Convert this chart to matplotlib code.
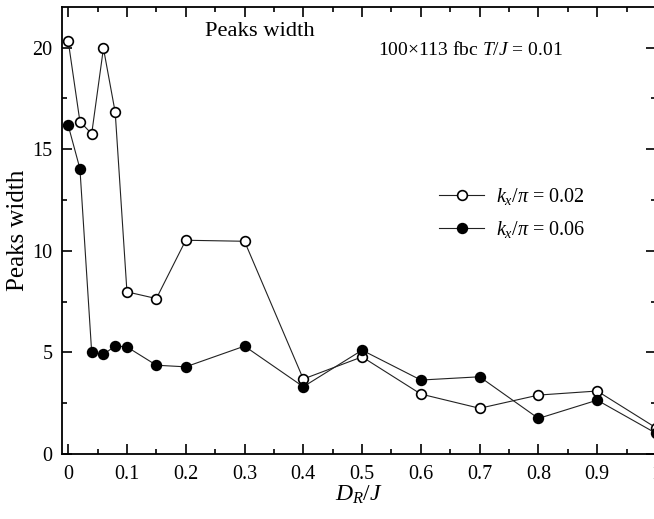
import matplotlib
matplotlib.use("Agg")
import matplotlib.pyplot as plt
from matplotlib.ticker import MultipleLocator

plt.rcParams['font.family'] = ['Liberation Serif', 'DejaVu Serif']
plt.rcParams['mathtext.fontset'] = 'custom'
plt.rcParams['mathtext.rm'] = 'Liberation Serif'
plt.rcParams['mathtext.it'] = 'Liberation Serif:italic'

dr = [0, 0.02, 0.04, 0.06, 0.08, 0.1, 0.15, 0.2, 0.3, 0.4, 0.5, 0.6, 0.7, 0.8, 0.9, 1.0]
width_k002 = [20.34, 16.36, 15.76, 19.97, 16.82, 7.98, 7.65, 10.52, 10.47, 3.69, 4.78, 2.95, 2.25, 2.9, 3.1, 1.29]
width_k006 = [16.18, 14.04, 5.0, 4.9, 5.32, 5.27, 4.37, 4.29, 5.31, 3.31, 5.11, 3.64, 3.80, 1.75, 2.65, 1.02]
xtick_labels = ['0', '0.1', '0.2', '0.3', '0.4', '0.5', '0.6', '0.7', '0.8', '0.9', '1']

fig = plt.figure(figsize=(6.54, 5.19), dpi=100)
ax = fig.add_axes([62/654, 65/519, (656-62)/654, (454-7)/519])

ax.plot(dr, width_k002, '-o', color='#222222', lw=0.8, ms=7, mfc='white', mec='black', mew=1.2,
        label=r'$k_x/\pi$ = 0.02', clip_on=False, zorder=3)
ax.plot(dr, width_k006, '-o', color='#222222', lw=0.8, ms=7, mfc='black', mec='black', mew=1.2,
        label=r'$k_x/\pi$ = 0.06', clip_on=False, zorder=3)

ax.set_xlim(-0.0105, 1.0)
ax.set_ylim(0, 22)
ax.xaxis.set_minor_locator(MultipleLocator(0.05))
ax.set_xticks([i / 10 for i in range(11)])
ax.set_xticklabels(xtick_labels)
ax.yaxis.set_major_locator(MultipleLocator(5))
ax.yaxis.set_minor_locator(MultipleLocator(2.5))
ax.tick_params(which='both', direction='in', top=True, right=True, labelsize=14.5, width=1.2)
ax.tick_params(which='major', length=7)
ax.tick_params(which='minor', length=3.6)
ax.tick_params(axis='x', pad=8)
ax.tick_params(axis='y', pad=7)
for s in ax.spines.values():
    s.set_linewidth(1.3)

ax.set_xlabel(r'$D_R/J$', fontsize=17, labelpad=0)
ax.set_ylabel('Peaks width', fontsize=18, labelpad=2)

ax.text(0.241, 0.946, 'Peaks width', transform=ax.transAxes, fontsize=16.2, ha='left', va='center')
ax.text(0.532, 0.904, r'100×113 fbc $T/J$ = 0.01', transform=ax.transAxes, fontsize=14,
        ha='left', va='center')

leg = ax.legend(loc='upper left', bbox_to_anchor=(0.605, 0.64), frameon=False, fontsize=14.5,
                handlelength=2.2, labelspacing=0.6, handletextpad=0.6)

fig.savefig('out.png', dpi=100)
